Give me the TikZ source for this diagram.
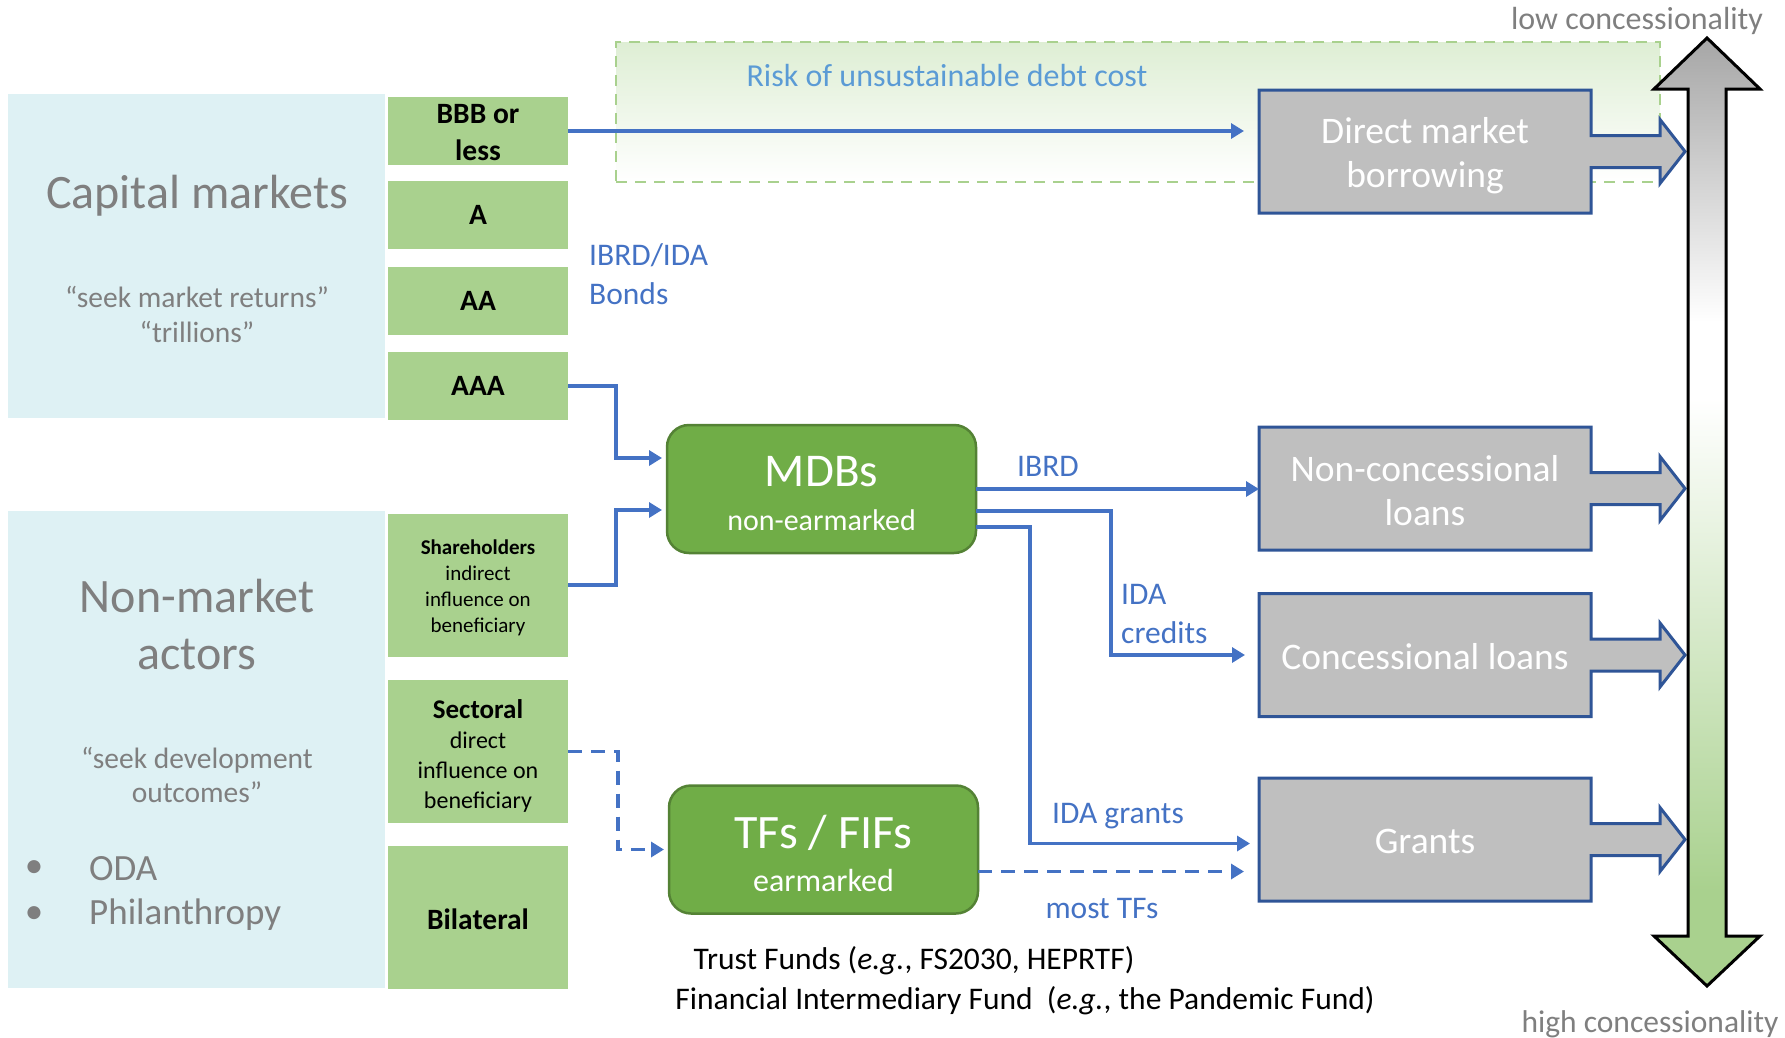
\documentclass[tikz,border=0pt]{standalone}
\usepackage{fontspec}
\setmainfont{Carlito}
\usetikzlibrary{arrows.meta,calc}
\definecolor{bgblue}{RGB}{222,241,244}
\definecolor{lgreen}{RGB}{169,209,142}
\definecolor{mgreen}{RGB}{112,173,71}
\definecolor{dgreen}{RGB}{84,130,53}
\definecolor{boxgrey}{RGB}{191,191,191}
\definecolor{boxborder}{RGB}{47,85,151}
\definecolor{lineblue}{RGB}{68,114,196}
\definecolor{riskblue}{RGB}{91,155,213}
\definecolor{txtgrey}{RGB}{127,127,127}
\definecolor{arrgrey}{RGB}{166,166,166}
\definecolor{paleg}{RGB}{222,238,212}
\pgfdeclarelayer{background}
\pgfsetlayers{background,main}
\pgfdeclareverticalshading{concess}{100bp}{color(0bp)=(lgreen); color(30bp)=(lgreen); color(56bp)=(white); color(60bp)=(white); color(75bp)=(arrgrey); color(100bp)=(arrgrey)}
\newcommand\fsz[2]{\fontsize{#1}{#2}\selectfont}
\tikzset{
  panel/.style={fill=bgblue, draw=none, inner sep=0, outer sep=0},
  rating/.style={fill=lgreen, draw=none, minimum width=180, minimum height=68, inner sep=0, outer sep=0, align=center, font=\fsz{29.5}{37}\bfseries},
  actor/.style={rating, minimum height=143},
  atxt/.style={inner sep=0, align=center},
  gtxt/.style={text=txtgrey, inner sep=0, align=center},
  fund/.style={fill=mgreen, draw=dgreen, line width=2.5, rounded corners=22, minimum width=309, minimum height=128, inner sep=0, outer sep=0},
  wtxt/.style={text=white, inner sep=0, align=center},
  gbox/.style={minimum width=332, minimum height=123, inner sep=0, outer sep=0},
  gboxtxt/.style={text=white, align=center, inner sep=0, font=\fsz{37.5}{44}},
  gshape/.style={draw=boxborder, fill=boxgrey, line width=3, line join=miter},
  conn/.style={draw=lineblue, line width=3.5, -{Triangle[length=13pt,width=15pt]}},
  dconn/.style={conn, dash pattern=on 14pt off 9pt},
  btxt/.style={text=lineblue, inner sep=0, font=\fsz{31.5}{39}},
  ktxt/.style={text=black, inner sep=0, font=\fsz{31.5}{36}}
}
\begin{document}
\begin{tikzpicture}[x=1pt,y=-1pt]
\useasboundingbox (0,0) rectangle (1785,1037);

% left panels
\node[panel, minimum width=377, minimum height=324] (cm) at (196.5,256) {};
\node[panel, minimum width=377, minimum height=477] (nm) at (196.5,749.5) {};
\node[gtxt, font=\fsz{48}{56}] (cmt) at (197,196) {Capital markets};
\node[gtxt, font=\fsz{29.5}{35}] (cmq) at (197,314) {“seek market returns”\\“trillions”};
\node[gtxt, font=\fsz{48}{57}] (nmt) at (197,624) {Non-market\\actors};
\node[gtxt, font=\fsz{29.5}{34}] (nmq) at (197,775) {“seek development\\outcomes”};
\node[gtxt, font=\fsz{37}{46}] (b1) at (34,869) {•};
\node[gtxt, font=\fsz{37}{46}, anchor=west] (oda) at (89,869) {ODA};
\node[gtxt, font=\fsz{37}{46}] (b2) at (34,915) {•};
\node[gtxt, font=\fsz{37}{46}, anchor=west] (phil) at (89,915) {Philanthropy};

% rating boxes
\node[rating] (bbb) at (478,131) {};
\node[atxt, font=\fsz{29.5}{37}\bfseries] (bbbt) at (478,133) {BBB or\\less};
\node[rating] (a) at (478,215) {A};
\node[rating] (aa) at (478,300.5) {AA};
\node[rating] (aaa) at (478,386) {AAA};
\node[actor] (sh) at (478,585) {};
\node[atxt, font=\fsz{21}{26}] (sht) at (478,588) {\textbf{Shareholders}\\indirect\\influence on\\beneficiary};
\node[actor] (sec) at (478,751.5) {};
\node[atxt, font=\fsz{24}{30}] (sect) at (478,755.5) {{\fsz{27}{30}\bfseries Sectoral}\\direct\\influence on\\beneficiary};
\node[actor] (bil) at (478,917.5) {};
\node[atxt, font=\fsz{29.5}{37}\bfseries] (bilt) at (478,919.5) {Bilateral};

% funds
\node[fund] (mdb) at (821.5,489) {};
\node[wtxt, font=\fsz{47}{50}] (mdbt) at (821.5,472) {MDBs};
\node[wtxt, font=\fsz{30}{30}] (mdbs) at (821.5,520) {non-earmarked};
\node[fund] (tfs) at (823.5,849.5) {};
\node[wtxt, font=\fsz{48}{50}] (tfst) at (823.5,833) {TFs / FIFs};
\node[wtxt, font=\fsz{32}{30}] (tfss) at (823.5,880) {earmarked};

% outcome boxes
\node[gbox] (dmb) at (1425,151.5) {};
\node[gbox] (ncl) at (1425,488.5) {};
\node[gbox] (cl) at (1425,655) {};
\node[gbox] (gr) at (1425,839.5) {};
\node[gboxtxt] (dmbt) at (1425,156) {Direct market\\borrowing};
\node[gboxtxt] (nclt) at (1425,490.5) {Non-concessional\\loans};
\node[gboxtxt] (clt) at (1425,656.5) {Concessional loans};
\node[gboxtxt] (grt) at (1425,841) {Grants};

\begin{pgfonlayer}{background}
  \node[draw=lgreen, line width=2.5, dash pattern=on 11pt off 8pt, top color=paleg, bottom color=white, minimum width=1044, minimum height=140, inner sep=0] (risk) at (1138,112) {};
  \foreach \n in {dmb,ncl,cl,gr}{
    \draw[gshape] (\n.north west) -- (\n.north east) -- ($(\n.east)+(0,-16)$) -- ($(\n.east)+(69,-16)$) -- ($(\n.east)+(69,-32)$) -- ($(\n.east)+(94,0)$) -- ($(\n.east)+(69,32)$) -- ($(\n.east)+(69,16)$) -- ($(\n.east)+(0,16)$) -- (\n.south east) -- (\n.south west) -- cycle;
  }
  \shadedraw[shading=concess, draw=black, line width=3, line join=miter] (1707,38) -- (1760,89) -- (1726,89) -- (1726,936) -- (1760,936) -- (1707,986) -- (1654,936) -- (1688,936) -- (1688,89) -- (1654,89) -- cycle;
\end{pgfonlayer}

\node[text=riskblue, inner sep=0, font=\fsz{32}{36}] (riskt) at (947,76) {Risk of unsustainable debt cost};
\node[gtxt, font=\fsz{32}{36}] (low) at (1637,21) {low concessionality};
\node[gtxt, font=\fsz{31.5}{36}] (high) at (1650,1024) {high concessionality};

% connectors
\draw[conn, shorten >=15pt] (bbb.east) -- (bbb.east -| dmb.west);
\draw[conn, shorten >=5pt] (aaa.east) -- ++(48,0) |- ($(mdb.west)+(0,-31)$);
\draw[conn, shorten >=5pt] (sh.east) -- ++(48,0) |- ($(mdb.west)+(0,21)$);
\draw[dconn, shorten >=5pt] (sec.east) -- ++(50,0) |- (tfs.west);
\draw[conn] (mdb.east) -- (mdb.east -| ncl.west);
\draw[conn, shorten >=14pt] ($(mdb.east)+(0,22)$) -- ++(135,0) |- (cl.west);
\draw[conn, shorten >=9pt] ($(mdb.east)+(0,38)$) -- ++(54,0) |- ($(gr.west)+(0,4)$);
\draw[dconn, shorten >=15pt] ($(tfs.east)+(0,22)$) -- ($(gr.west)+(0,32)$);

% labels
\node[btxt, anchor=west, align=left] (bonds) at (589,274) {IBRD/IDA\\Bonds};
\node[btxt] (ibrd) at (1048,466) {IBRD};
\node[btxt, anchor=west, align=left] (idac) at (1121,614) {IDA\\credits};
\node[btxt] (idag) at (1118,816) {IDA grants};
\node[btxt] (most) at (1102,908) {most TFs};
\node[ktxt] (tf) at (914,961) {Trust Funds (\textit{e.g.}, FS2030, HEPRTF)};
\node[ktxt] (fif) at (1025,1001) {Financial Intermediary Fund\ \ (\textit{e.g.}, the Pandemic Fund)};
\end{tikzpicture}
\end{document}
